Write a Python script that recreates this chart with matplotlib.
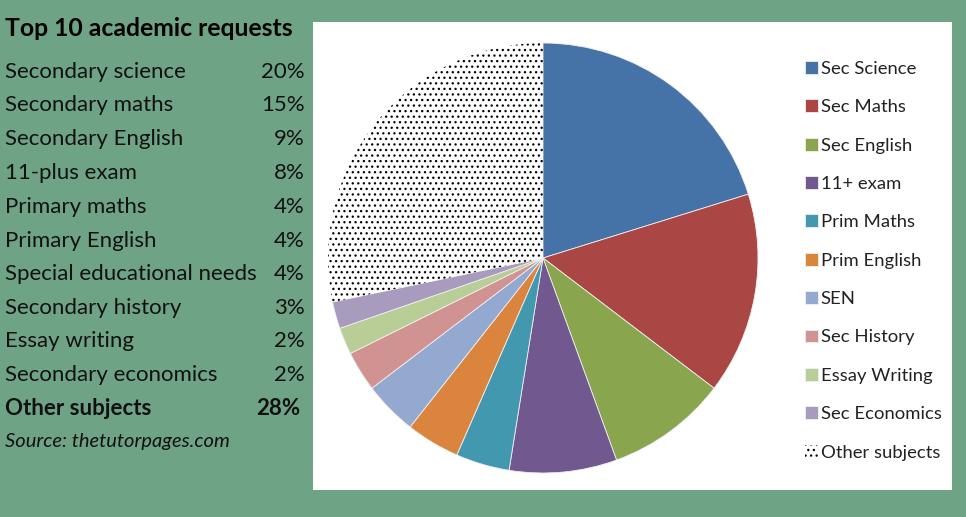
import matplotlib
matplotlib.use("Agg")
import matplotlib.pyplot as plt
from matplotlib.patches import Rectangle

# data
subjects = ["Secondary science", "Secondary maths", "Secondary English", "11-plus exam",
            "Primary maths", "Primary English", "Special educational needs",
            "Secondary history", "Essay writing", "Secondary economics", "Other subjects"]
short_names = ["Sec Science", "Sec Maths", "Sec English", "11+ exam", "Prim Maths",
               "Prim English", "SEN", "Sec History", "Essay Writing", "Sec Economics",
               "Other subjects"]
shares = [20, 15, 9, 8, 4, 4, 4, 3, 2, 2, 28]
colors = ["#4572a7", "#aa4643", "#89a54e", "#71588f", "#4198af", "#db843d",
          "#93a9cf", "#d19392", "#b9cd96", "#a99bbd", "white"]

W, H = 966, 517
plt.rcParams['font.family'] = ['Lato', 'DejaVu Sans']
plt.rcParams['hatch.linewidth'] = 0.9

fig = plt.figure(figsize=(W / 100, H / 100), dpi=100)
fig.patch.set_facecolor("#6fa386")

def fx(x):
    return x / W

def fy(y):
    return 1 - y / H

# white chart panel
fig.patches.append(Rectangle((fx(313), fy(490)), fx(952 - 313), (490 - 22) / H,
                             transform=fig.transFigure, facecolor="white",
                             edgecolor="none", zorder=-5))

# left text table
fig.text(fx(5), fy(36), "Top 10 academic requests", fontsize=17.8,
         fontweight="bold", va="baseline", ha="left")
baselines = [78, 111, 145, 179, 213, 247, 280, 314, 347, 381, 415]
for i, (name, val) in enumerate(zip(subjects, shares)):
    bold = name == "Other subjects"
    fw = "bold" if bold else "normal"
    fig.text(fx(5), fy(baselines[i]), name, fontsize=16, fontweight=fw,
             va="baseline", ha="left", color="#111111")
    fig.text(fx(300 if bold else 305), fy(baselines[i]), "{}%".format(val),
             fontsize=16, fontweight=fw, va="baseline", ha="right", color="#111111")
fig.text(fx(5), fy(447), "Source: thetutorpages.com", fontsize=14.5,
         style="italic", va="baseline", ha="left", color="#111111")

# pie
cx, cy, r = 543, 258, 215
ax = fig.add_axes([fx(cx - r), fy(cy + r), 2 * r / W, 2 * r / H])
wedges, _ = ax.pie(shares, colors=colors, startangle=90, counterclock=False,
                   wedgeprops=dict(linewidth=0.6, edgecolor="#f0f0f0"))
other = wedges[-1]
other.set_hatch("...")
other.set_edgecolor("black")
other.set_linewidth(0)
ax.set_xlim(-1, 1)
ax.set_ylim(-1, 1)
ax.axis("off")

# legend
leg = fig.legend(wedges, short_names, loc="upper left",
                 bbox_to_anchor=(fx(805), fy(61)), frameon=False,
                 fontsize=13.3, handlelength=0.7, handleheight=0.7,
                 handletextpad=0.16, labelspacing=1.21, borderpad=0,
                 borderaxespad=0)
for t in leg.get_texts():
    t.set_color("#222222")

fig.savefig("out.png", dpi=100, facecolor=fig.get_facecolor())
